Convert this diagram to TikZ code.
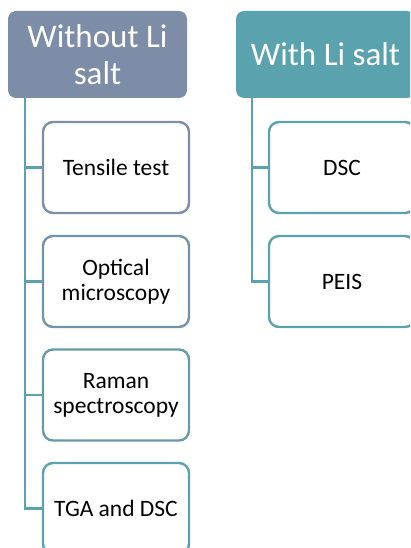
\documentclass[tikz,border=0pt]{standalone}
\usepackage{fontspec}
\setmainfont{Carlito}
\definecolor{slate}{HTML}{7D8DA8}
\definecolor{tealc}{HTML}{5AA2AD}
\begin{document}
\begin{tikzpicture}[x=1pt,y=-1pt,
  header/.style={rounded corners=8pt, minimum width=179pt, minimum height=87pt,
    inner sep=0pt, text=white, align=center,
    font=\fontsize{33}{37}\selectfont},
  child/.style={draw, line width=2.4pt, rounded corners=10pt, fill=white,
    minimum width=146pt, minimum height=91pt, inner sep=0pt, align=center,
    font=\fontsize{23.5}{25}\selectfont},
  conn/.style={draw=tealc, line width=2.4pt}]
\useasboundingbox (0,0) rectangle (410,548);
\clip (0,0) rectangle (410,548);
% headers
\node[header, fill=slate] (h1) at (97.5,54.5) {Without Li\\salt};
\node[header, fill=tealc] (h2) at (325.5,54.5) {With Li salt};
% left children
\node[child, draw=slate] (a1) at (116,167.5) {Tensile test};
\node[child, draw=slate!70!tealc] (a2) at (116,281.5) {Optical\\microscopy};
\node[child, draw=slate!40!tealc] (a3) at (116,395) {Raman\\spectroscopy};
\node[child, draw=tealc] (a4) at (116,508.5) {TGA and DSC};
% right children
\node[child, draw=tealc] (b1) at (342,167.5) {DSC};
\node[child, draw=tealc] (b2) at (342,281.5) {PEIS};
% connectors
\coordinate (l0) at (25,98);
\coordinate (r0) at (252,98);
\draw[conn] (l0) |- (a4.west);
\draw[conn] (l0 |- a1.west) -- (a1.west);
\draw[conn] (l0 |- a2.west) -- (a2.west);
\draw[conn] (l0 |- a3.west) -- (a3.west);
\draw[conn] (r0) |- (b2.west);
\draw[conn] (r0 |- b1.west) -- (b1.west);
\end{tikzpicture}
\end{document}
